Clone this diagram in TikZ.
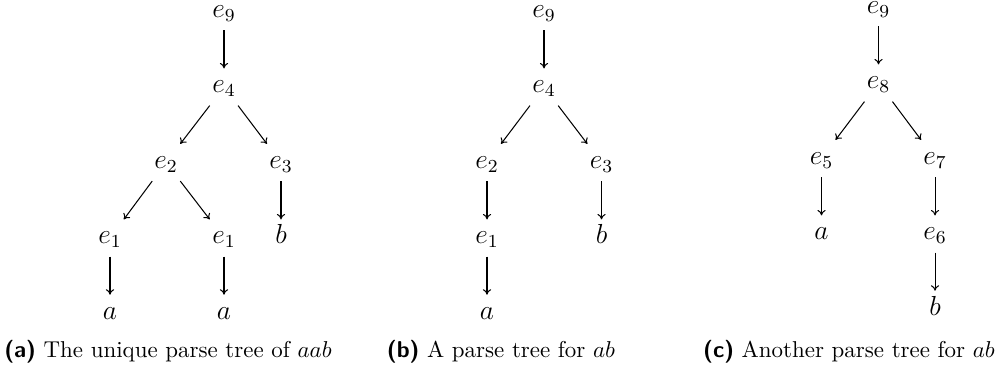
\documentclass[tikz,border=0pt]{standalone}
\usetikzlibrary{arrows.meta}
\begin{document}
\begin{tikzpicture}[x=0.4359pt,y=-0.4359pt,
  lbl/.style={font=\large, text height=7pt, text depth=2pt, inner ysep=3.4pt, inner xsep=3pt},
  edge/.style={-{To[length=2.4pt,width=3.6pt]}, line width=0.45pt},
  captxt/.style={anchor=base, inner sep=0pt, font=\normalsize}]
\useasboundingbox (0,0) rectangle (1001,373);
% (a)
\begin{scope}
\node[lbl] (a9) at (224,11.7) {$e_9$};
\node[lbl] (a4) at (224,87) {$e_4$};
\node[lbl] (a2) at (166,162.5) {$e_2$};
\node[lbl] (a3) at (281,162.5) {$e_3$};
\node[lbl] (a1l) at (110,238) {$e_1$};
\node[lbl] (a1r) at (224,238) {$e_1$};
\node[lbl] (ab) at (281,238) {$b$};
\node[lbl] (aal) at (110,313.3) {$a$};
\node[lbl] (aar) at (224,313.3) {$a$};
\draw[edge] (a9) -- (a4);
\draw[edge] (a4) -- (a2);
\draw[edge] (a4) -- (a3);
\draw[edge] (a2) -- (a1l);
\draw[edge] (a2) -- (a1r);
\draw[edge] (a3) -- (ab);
\draw[edge] (a1l) -- (aal);
\draw[edge] (a1r) -- (aar);
\node[captxt] (capa) at (168,357) {\textsf{\bfseries(a)} The unique parse tree of $aab$};
\end{scope}
% (b)
\begin{scope}
\node[lbl] (b9) at (544,11.7) {$e_9$};
\node[lbl] (b4) at (544,87) {$e_4$};
\node[lbl] (b2) at (487,162.5) {$e_2$};
\node[lbl] (b3) at (601.5,162.5) {$e_3$};
\node[lbl] (b1) at (487,238) {$e_1$};
\node[lbl] (bb) at (601.5,238) {$b$};
\node[lbl] (ba) at (487,313.3) {$a$};
\draw[edge] (b9) -- (b4);
\draw[edge] (b4) -- (b2);
\draw[edge] (b4) -- (b3);
\draw[edge] (b2) -- (b1);
\draw[edge] (b3) -- (bb);
\draw[edge] (b1) -- (ba);
\node[captxt] (capb) at (501,357) {\textsf{\bfseries(b)} A parse tree for $ab$};
\end{scope}
% (c)
\begin{scope}
\node[lbl] (c9) at (878.5,7.7) {$e_9$};
\node[lbl] (c8) at (878.5,83) {$e_8$};
\node[lbl] (c5) at (821.5,158.5) {$e_5$};
\node[lbl] (c7) at (935,158.5) {$e_7$};
\node[lbl] (ca) at (821.5,234) {$a$};
\node[lbl] (c6) at (935,234) {$e_6$};
\node[lbl] (cb) at (935,309.3) {$b$};
\draw[edge] (c9) -- (c8);
\draw[edge] (c8) -- (c5);
\draw[edge] (c8) -- (c7);
\draw[edge] (c5) -- (ca);
\draw[edge] (c7) -- (c6);
\draw[edge] (c6) -- (cb);
\node[captxt] (capc) at (849,357) {\textsf{\bfseries(c)} Another parse tree for $ab$};
\end{scope}
\end{tikzpicture}
\end{document}
